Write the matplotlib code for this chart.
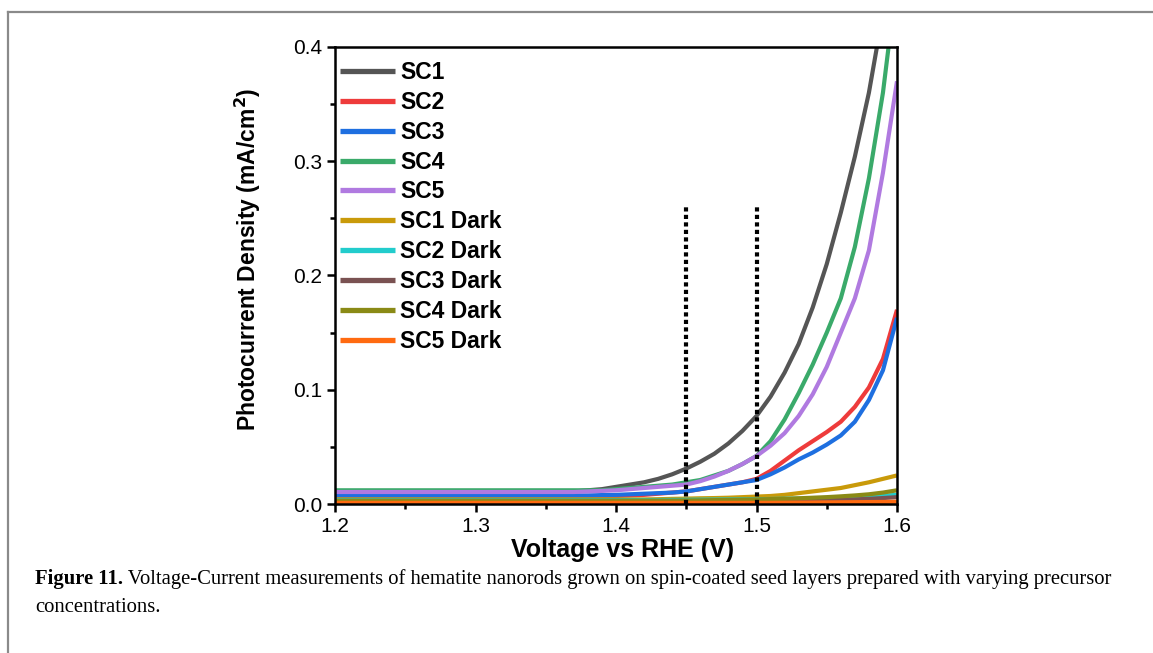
import numpy as np
import matplotlib
matplotlib.use("Agg")
import matplotlib.pyplot as plt
from matplotlib.lines import Line2D
from matplotlib.ticker import MultipleLocator, FormatStrFormatter

# ---------------- data ----------------
voltage = [1.20, 1.21, 1.22, 1.23, 1.24, 1.25, 1.26, 1.27, 1.28, 1.29,
           1.30, 1.31, 1.32, 1.33, 1.34, 1.35, 1.36, 1.37, 1.38, 1.39,
           1.40, 1.41, 1.42, 1.43, 1.44, 1.45, 1.46, 1.47, 1.48, 1.49,
           1.50, 1.51, 1.52, 1.53, 1.54, 1.55, 1.56, 1.57, 1.58, 1.59, 1.60]

sc1 = [0.011, 0.011, 0.011, 0.011, 0.011, 0.011, 0.011, 0.011, 0.011, 0.011,
       0.011, 0.011, 0.011, 0.011, 0.011, 0.011, 0.011, 0.011, 0.012, 0.013,
       0.015, 0.017, 0.019, 0.022, 0.026, 0.031, 0.037, 0.044, 0.053, 0.064,
       0.077, 0.094, 0.115, 0.140, 0.172, 0.210, 0.255, 0.304, 0.360, 0.430, 0.510]
sc2 = [0.006, 0.006, 0.006, 0.006, 0.006, 0.006, 0.006, 0.006, 0.006, 0.006,
       0.006, 0.006, 0.006, 0.006, 0.006, 0.006, 0.006, 0.006, 0.006, 0.0065,
       0.007, 0.0075, 0.008, 0.009, 0.010, 0.011, 0.013, 0.015, 0.017, 0.019,
       0.022, 0.029, 0.038, 0.047, 0.055, 0.063, 0.072, 0.085, 0.102, 0.127, 0.170]
sc3 = [0.0075, 0.0075, 0.0075, 0.0075, 0.0075, 0.0075, 0.0075, 0.0075, 0.0075, 0.0075,
       0.0075, 0.0075, 0.0075, 0.0075, 0.0075, 0.0075, 0.0075, 0.0075, 0.0075, 0.0078,
       0.008, 0.0085, 0.009, 0.0095, 0.010, 0.011, 0.013, 0.015, 0.017, 0.019,
       0.021, 0.026, 0.032, 0.039, 0.045, 0.052, 0.060, 0.072, 0.091, 0.117, 0.163]
sc4 = [0.012, 0.012, 0.012, 0.012, 0.012, 0.012, 0.012, 0.012, 0.012, 0.012,
       0.012, 0.012, 0.012, 0.012, 0.012, 0.012, 0.012, 0.012, 0.012, 0.012,
       0.013, 0.014, 0.015, 0.016, 0.017, 0.019, 0.021, 0.025, 0.029, 0.035,
       0.042, 0.055, 0.074, 0.097, 0.122, 0.150, 0.180, 0.225, 0.285, 0.360, 0.460]
sc5 = [0.0105, 0.0105, 0.0105, 0.0105, 0.0105, 0.0105, 0.0105, 0.0105, 0.0105, 0.0105,
       0.0105, 0.0105, 0.0105, 0.0105, 0.0105, 0.0105, 0.0105, 0.0105, 0.011, 0.0115,
       0.012, 0.013, 0.014, 0.015, 0.016, 0.017, 0.020, 0.024, 0.029, 0.035,
       0.042, 0.051, 0.062, 0.077, 0.096, 0.120, 0.150, 0.180, 0.222, 0.290, 0.370]
sc1_dark = [0.004, 0.004, 0.004, 0.004, 0.004, 0.004, 0.004, 0.004, 0.004, 0.004,
            0.004, 0.004, 0.004, 0.004, 0.004, 0.004, 0.004, 0.004, 0.004, 0.004,
            0.004, 0.004, 0.004, 0.0042, 0.0045, 0.0047, 0.005, 0.0052, 0.0055, 0.006,
            0.0065, 0.007, 0.008, 0.0095, 0.011, 0.0125, 0.014, 0.0165, 0.019, 0.022, 0.025]
sc2_dark = [0.0035, 0.0035, 0.0035, 0.0035, 0.0035, 0.0035, 0.0035, 0.0035, 0.0035, 0.0035,
            0.0035, 0.0035, 0.0035, 0.0035, 0.0035, 0.0035, 0.0035, 0.0035, 0.0035, 0.0035,
            0.0035, 0.0035, 0.0035, 0.0035, 0.0036, 0.0037, 0.0038, 0.0039, 0.004, 0.0041,
            0.0042, 0.0044, 0.0046, 0.0048, 0.005, 0.0053, 0.0057, 0.006, 0.0066, 0.0073, 0.008]
sc3_dark = [0.002, 0.002, 0.002, 0.002, 0.002, 0.002, 0.002, 0.002, 0.002, 0.002,
            0.002, 0.002, 0.002, 0.002, 0.002, 0.002, 0.002, 0.002, 0.002, 0.002,
            0.002, 0.002, 0.002, 0.002, 0.002, 0.002, 0.002, 0.002, 0.002, 0.0021,
            0.0022, 0.0024, 0.0026, 0.0028, 0.003, 0.0033, 0.0036, 0.004, 0.0045, 0.0052, 0.006]
sc4_dark = [0.003, 0.003, 0.003, 0.003, 0.003, 0.003, 0.003, 0.003, 0.003, 0.003,
            0.003, 0.003, 0.003, 0.003, 0.003, 0.003, 0.003, 0.003, 0.003, 0.003,
            0.003, 0.003, 0.003, 0.003, 0.003, 0.0031, 0.0032, 0.0034, 0.0036, 0.0038,
            0.004, 0.0043, 0.0046, 0.005, 0.0055, 0.006, 0.0067, 0.0075, 0.0085, 0.010, 0.012]
sc5_dark = [0.001, 0.001, 0.001, 0.001, 0.001, 0.001, 0.001, 0.001, 0.001, 0.001,
            0.001, 0.001, 0.001, 0.001, 0.001, 0.001, 0.001, 0.001, 0.001, 0.001,
            0.001, 0.001, 0.001, 0.001, 0.001, 0.001, 0.001, 0.001, 0.001, 0.001,
            0.001, 0.001, 0.0011, 0.0012, 0.0013, 0.0014, 0.0015, 0.0016, 0.0017, 0.0018, 0.002]

series_names = ["SC1", "SC2", "SC3", "SC4", "SC5",
                "SC1 Dark", "SC2 Dark", "SC3 Dark", "SC4 Dark", "SC5 Dark"]
series_values = [sc1, sc2, sc3, sc4, sc5,
                 sc1_dark, sc2_dark, sc3_dark, sc4_dark, sc5_dark]
series_colors = ["#555555", "#ee3b3b", "#1e6fe0", "#3aaa6a", "#b07ae0",
                 "#c99a0a", "#22cccc", "#7a5252", "#8a8a16", "#ff6a10"]

marker_voltages = [1.45, 1.50]
marker_top = 0.26

x_label = "Voltage vs RHE (V)"
y_label = "Photocurrent Density (mA/cm$\\mathbf{^2}$)"
caption_bold = "Figure 11."
caption_rest = (" Voltage-Current measurements of hematite nanorods grown on spin-coated "
                "seed layers prepared with varying precursor")
caption_line2 = "concentrations."

# ---------------- figure ----------------
W, H = 1153, 653
fig = plt.figure(figsize=(W / 100, H / 100), dpi=100)
fig.patch.set_facecolor("white")

def fx(px):
    return px / W

def fy(py):
    return 1 - py / H

ax_l, ax_r, ax_t, ax_b = 335, 897, 47, 504
ax = fig.add_axes([fx(ax_l), fy(ax_b), (ax_r - ax_l) / W, (ax_b - ax_t) / H])

for name, vals, col in zip(series_names, series_values, series_colors):
    ax.plot(voltage, vals, color=col, lw=3.0, label=name, solid_capstyle="butt", zorder=2)

ax.vlines(marker_voltages, 0, marker_top, colors="black", linestyles=(0, (1, 0.8)),
          lw=3.0, zorder=4)

ax.set_xlim(1.2, 1.6)
ax.set_ylim(0.0, 0.4)
ax.xaxis.set_major_locator(MultipleLocator(0.1))
ax.xaxis.set_minor_locator(MultipleLocator(0.05))
ax.yaxis.set_major_locator(MultipleLocator(0.1))
ax.yaxis.set_minor_locator(MultipleLocator(0.05))
ax.xaxis.set_major_formatter(FormatStrFormatter("%.1f"))
ax.yaxis.set_major_formatter(FormatStrFormatter("%.1f"))

for sp in ax.spines.values():
    sp.set_linewidth(1.8)
ax.tick_params(which="major", direction="out", length=6, width=1.8,
               labelsize=15, pad=3)
ax.tick_params(which="minor", direction="out", length=3.5, width=1.8)
for lab in ax.get_xticklabels() + ax.get_yticklabels():
    lab.set_family("Liberation Sans")

ax.set_xlabel(x_label, fontsize=18, fontweight="bold", family="Liberation Sans")
ax.set_ylabel(y_label, fontsize=16.5, fontweight="bold", family="Liberation Sans")
ax.xaxis.set_label_coords(0.512, -0.075)
ax.yaxis.set_label_coords(-0.128, 0.535)

leg = ax.legend(loc="upper left", bbox_to_anchor=(5 / 562, 1 - 14 / 457), frameon=False,
                prop={"family": "Liberation Sans", "weight": "bold", "size": 16.5},
                handlelength=2.4, handletextpad=0.22, labelspacing=0.3,
                borderpad=0.0, borderaxespad=0.0)
for h in leg.get_lines():
    h.set_linewidth(3.8)

# border of the figure panel
fig.add_artist(Line2D([fx(8), 1.0], [fy(12), fy(12)], color="#8a8a8a", lw=1.6))
fig.add_artist(Line2D([fx(8), fx(8)], [fy(12), 0.0], color="#8a8a8a", lw=1.6))

# caption
cap_size = 14.9
t1 = fig.text(fx(35), fy(579), caption_bold, fontsize=cap_size, fontweight="bold",
              family="Liberation Serif", va="center", ha="left")
fig.canvas.draw()
r = fig.canvas.get_renderer()
bb = t1.get_window_extent(r)
t2 = fig.text(bb.x1 / W, fy(579), caption_rest, fontsize=cap_size,
              family="Liberation Serif", va="center", ha="left")
fig.text(fx(35), fy(607), caption_line2, fontsize=cap_size,
         family="Liberation Serif", va="center", ha="left")

fig.savefig("out.png", dpi=100, facecolor="white")
